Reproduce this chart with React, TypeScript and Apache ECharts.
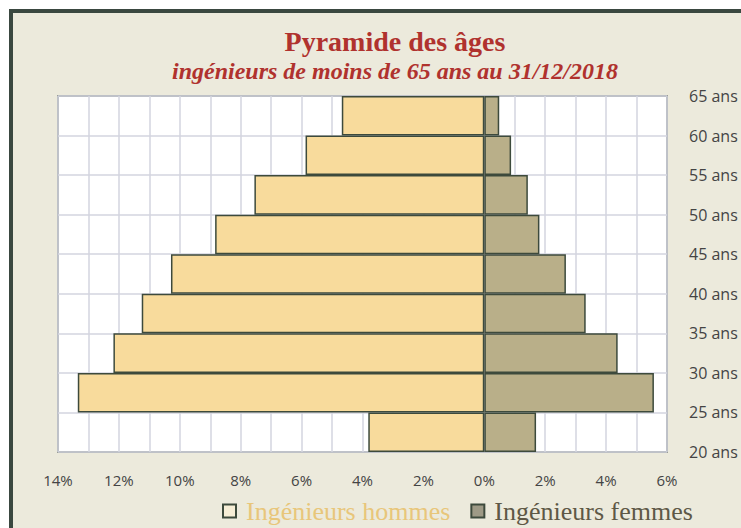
import React, { useEffect, useRef } from "react";
import * as echarts from "echarts";

const ageBands = ["20-25", "25-30", "30-35", "35-40", "40-45", "45-50", "50-55", "55-60", "60-65"];
const hommes = [3.81, 13.35, 12.18, 11.25, 10.29, 8.84, 7.55, 5.87, 4.68];
const femmes = [1.7, 5.57, 4.38, 3.33, 2.68, 1.81, 1.43, 0.88, 0.49];
const ageTicksMin = 20;
const ageTicksMax = 65;
const ageTickStep = 5;
const pctMin = -14;
const pctMax = 6;
const pctStep = 2;

const TITLE = "Pyramide des âges";
const SUBTITLE = "ingénieurs de moins de 65 ans au 31/12/2018";
const NAME_H = "Ingénieurs hommes";
const NAME_F = "Ingénieurs femmes";

export default function App() {
  const ref = useRef<HTMLDivElement>(null);
  useEffect(() => {
    if (!ref.current) return;
    const chart = echarts.init(ref.current, null, { renderer: "svg" });
    const border = "#3d4a3c";
    const serif = "'Liberation Serif', 'DejaVu Serif', serif";
    const sans = "'Open Sans', 'Liberation Sans', sans-serif";
    chart.setOption({
      animation: false,
      backgroundColor: "#ffffff",
      graphic: [
        {
          type: "rect",
          shape: { x: 11, y: 11, width: 780, height: 540 },
          style: { fill: "#ECEADC", stroke: "#3a4840", lineWidth: 4 },
          z: -10,
          silent: true,
        },
      ],
      title: [
        {
          text: TITLE,
          left: 390,
          top: 22,
          textAlign: "center",
          textStyle: { fontFamily: serif, fontWeight: "bold", fontSize: 28, color: "#B0322E" },
        },
        {
          text: SUBTITLE,
          left: 390,
          top: 54,
          textAlign: "center",
          textStyle: {
            fontFamily: serif,
            fontWeight: "bold",
            fontStyle: "italic",
            fontSize: 24,
            color: "#B0322E",
          },
        },
      ],
      legend: {
        left: 217,
        top: 493,
        itemWidth: 13,
        itemHeight: 13,
        itemGap: 20,
        icon: "rect",
        textStyle: { fontFamily: serif, fontSize: 26, padding: [0, 0, 0, 5] },
        data: [
          { name: NAME_H, textStyle: { color: "#E8C67A" }, itemStyle: { color: "#F6EED6", borderColor: border, borderWidth: 2 } },
          { name: NAME_F, textStyle: { color: "#5E5846" }, itemStyle: { color: "#9E9A86", borderColor: border, borderWidth: 2 } },
        ],
      },
      grid: {
        left: 58,
        right: 74,
        top: 96,
        bottom: 76,
        show: true,
        backgroundColor: "#ffffff",
        borderColor: "#5c6560",
        borderWidth: 1.5,
      },
      xAxis: {
        type: "value",
        min: pctMin,
        max: pctMax,
        interval: pctStep,
        axisLine: { show: false },
        axisTick: { show: false },
        axisLabel: {
          margin: 20,
          fontFamily: sans,
          fontSize: 15,
          color: "#444444",
          formatter: (v: number) => Math.abs(v) + "%",
        },
        splitLine: { show: true, lineStyle: { color: "#D3D5DF", width: 1.5 } },
        minorTick: { show: false, splitNumber: 2 },
        minorSplitLine: { show: true, lineStyle: { color: "#D3D5DF", width: 1.5 } },
      },
      yAxis: [
        {
          type: "category",
          data: ageBands,
          show: false,
        },
        {
          type: "value",
          min: ageTicksMin,
          max: ageTicksMax,
          interval: ageTickStep,
          position: "right",
          axisLine: { show: false },
          axisTick: { show: false },
          axisLabel: {
            margin: 22,
            fontFamily: sans,
            fontSize: 16,
            color: "#444444",
            formatter: (v: number) => v + " ans",
          },
          splitLine: { show: true, lineStyle: { color: "#D3D5DF", width: 1.5 } },
        },
      ],
      series: [
        {
          name: NAME_H,
          type: "bar",
          yAxisIndex: 0,
          data: hommes.map((v) => -v),
          barCategoryGap: "0%",
          barGap: "-100%",
          itemStyle: { color: "#F8DB9C", borderColor: border, borderWidth: 1.5 },
        },
        {
          name: NAME_F,
          type: "bar",
          yAxisIndex: 0,
          data: femmes,
          barCategoryGap: "0%",
          barGap: "-100%",
          itemStyle: { color: "#B9AF89", borderColor: border, borderWidth: 1.5 },
        },
      ],
    });
    return () => chart.dispose();
  }, []);
  return (
    <div
      ref={ref}
      style={{ position: "absolute", left: 0, top: 0, width: 741, height: 528 }}
    />
  );
}
